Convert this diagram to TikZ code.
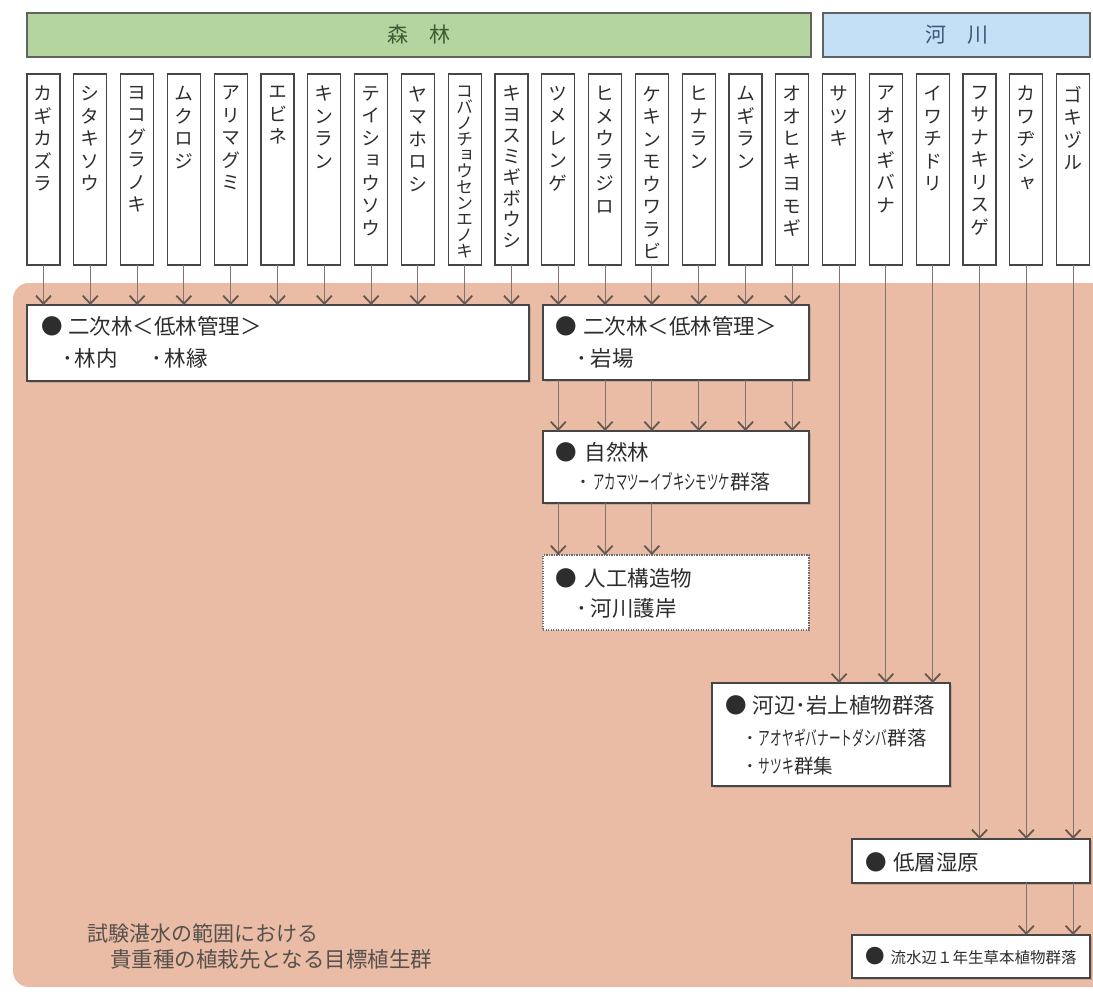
\documentclass[tikz,border=0pt]{standalone}
\usepackage{fontspec}
\setmainfont{Noto Sans CJK JP}
\newfontfamily\vjp[RawFeature=+vert]{Noto Sans CJK JP}
\newfontfamily\jpnarrowA[FakeStretch=0.57]{Noto Sans CJK JP}
\newfontfamily\jpnarrowB[FakeStretch=0.6]{Noto Sans CJK JP}
\usetikzlibrary{arrows.meta,shadows}
\definecolor{pinkbg}{RGB}{234,188,165}
\definecolor{boxc}{RGB}{70,70,70}
\definecolor{txtc}{RGB}{45,45,45}
\definecolor{arrc}{RGB}{128,116,110}
\definecolor{tipc}{RGB}{100,88,80}
\definecolor{greenb}{RGB}{180,213,160}
\definecolor{blueb}{RGB}{195,224,247}
\definecolor{greent}{RGB}{62,90,52}
\definecolor{bluet}{RGB}{60,88,118}
\definecolor{notec}{RGB}{85,80,76}
\tikzset{
  spbox/.style={draw=boxc, line width=1.2pt, fill=white, minimum width=33, minimum height=191, anchor=north, inner sep=0pt, outer sep=0pt},
  banner/.style={draw=boxc!85, line width=1.4pt, inner sep=0pt, outer sep=0pt, anchor=north west},
  mainbox/.style={draw=boxc, line width=1.4pt, fill=white, inner sep=0pt, outer sep=0pt, anchor=north west,
     drop shadow={shadow xshift=1.5pt, shadow yshift=-1.5pt, opacity=0.35}},
  dotbox/.style={draw=boxc!80, line width=1.1pt, dash pattern=on 1.2pt off 1.3pt, fill=white, inner sep=0pt, outer sep=0pt, anchor=north west},
  lbl/.style={anchor=base west, inner sep=0pt, text=txtc},
  arr/.style={draw=arrc, line width=1.1pt, arrows={-Straight Barb[length=8pt 0, width=15pt 0, line width=1.8pt, color=tipc]}},
}
\begin{document}
\begin{tikzpicture}[x=1pt, y=-1pt]
\useasboundingbox (0,0) rectangle (1093,998);
\clip (0,0) rectangle (1093,998);
% pink background
\fill[pinkbg, rounded corners=16pt] (13,283) rectangle (1120,987);
% banners
\node[banner, fill=greenb, minimum width=784, minimum height=44] (forest) at (27,13) {};
\node[text=greent, font=\fontsize{21}{24}\selectfont] (forestt) at (forest.center) {森　林};
\node[banner, fill=blueb, minimum width=267, minimum height=44] (river) at (823,13) {};
\node[text=bluet, font=\fontsize{21}{24}\selectfont] (rivert) at (river.center) {河　川};
% species boxes
\foreach \i/\fs/\ls/\nm in {
 1/19/22.5/{カ\\ギ\\カ\\ズ\\ラ},
 2/19/22.5/{シ\\タ\\キ\\ソ\\ウ},
 3/19/22.5/{ヨ\\コ\\グ\\ラ\\ノ\\キ},
 4/19/22.5/{ム\\ク\\ロ\\ジ},
 5/19/22.5/{ア\\リ\\マ\\グ\\ミ},
 6/19/22.5/{エ\\ビ\\ネ},
 7/19/22.5/{キ\\ン\\ラ\\ン},
 8/19/22.5/{テ\\イ\\シ\\ョ\\ウ\\ソ\\ウ},
 9/19/22.5/{ヤ\\マ\\ホ\\ロ\\シ},
 10/17/16/{コ\\バ\\ノ\\チ\\ョ\\ウ\\セ\\ン\\エ\\ノ\\キ},
 11/19/21/{キ\\ヨ\\ス\\ミ\\ギ\\ボ\\ウ\\シ},
 12/19/22.5/{ツ\\メ\\レ\\ン\\ゲ},
 13/19/22.5/{ヒ\\メ\\ウ\\ラ\\ジ\\ロ},
 14/19/22.5/{ケ\\キ\\ン\\モ\\ウ\\ワ\\ラ\\ビ},
 15/19/22.5/{ヒ\\ナ\\ラ\\ン},
 16/19/22.5/{ム\\ギ\\ラ\\ン},
 17/19/22.5/{オ\\オ\\ヒ\\キ\\ヨ\\モ\\ギ},
 18/19/22.5/{サ\\ツ\\キ},
 19/19/22.5/{ア\\オ\\ヤ\\ギ\\バ\\ナ},
 20/19/22.5/{イ\\ワ\\チ\\ド\\リ},
 21/19/22.5/{フ\\サ\\ナ\\キ\\リ\\ス\\ゲ},
 22/19/22.5/{カ\\ワ\\ヂ\\シ\\ャ},
 23/19/22.5/{ゴ\\キ\\ヅ\\ル}} {
  \node[spbox] (s\i) at (43.5+46.8*\i-46.8, 74) {};
  \node[anchor=north, inner sep=0pt, align=center, text=txtc, font=\vjp\fontsize{\fs}{\ls}\selectfont] (t\i) at ([yshift=-12pt]s\i.north) {\nm};
}
% target boxes
\node[mainbox, minimum width=502, minimum height=76] (A) at (27,305) {};
\node[mainbox, minimum width=266, minimum height=75] (B) at (543,305) {};
\node[mainbox, minimum width=266, minimum height=72] (C) at (543,431) {};
\node[dotbox, minimum width=266, minimum height=75] (D) at (543,555) {};
\node[mainbox, minimum width=238, minimum height=103] (E) at (712,683) {};
\node[mainbox, minimum width=238, minimum height=44] (F) at (852,839) {};
\node[mainbox, minimum width=238, minimum height=43] (G) at (852,935) {};
% arrows
\foreach \i in {1,...,11} \draw[arr] (s\i.south) -- (s\i.south |- A.north);
\foreach \i in {12,...,17} \draw[arr] (s\i.south) -- (s\i.south |- B.north);
\foreach \i in {12,...,17} \draw[arr] (B.south -| s\i) -- (C.north -| s\i);
\foreach \i in {12,13,14} \draw[arr] (C.south -| s\i) -- (D.north -| s\i);
\foreach \i in {18,19,20} \draw[arr] (s\i.south) -- (s\i.south |- E.north);
\foreach \i in {21,22,23} \draw[arr] (s\i.south) -- (s\i.south |- F.north);
\foreach \i in {22,23} \draw[arr] (F.south -| s\i) -- (G.north -| s\i);
% labels
\node[lbl, font=\fontsize{21.5}{25}\selectfont] (a1) at (41,334) {●\hspace{5.5pt}二次林＜低林管理＞};
\node[lbl, font=\fontsize{21.5}{25}\selectfont] (a2) at (62,366) {･\hspace{2pt}林内\hspace{34pt}･\hspace{2pt}林縁};
\node[lbl, font=\fontsize{21.5}{25}\selectfont] (b1) at (555,334) {●\hspace{6.5pt}二次林＜低林管理＞};
\node[lbl, font=\fontsize{21.5}{25}\selectfont] (b2) at (576,366) {･\hspace{4pt}岩場};
\node[lbl, font=\fontsize{21.5}{25}\selectfont] (c1) at (555,460) {●\hspace{8pt}自然林};
\node[lbl, font=\fontsize{20}{24}\selectfont] (c2) at (578,489) {･\hspace{5pt}{\jpnarrowA アカマツーイブキシモツケ}群落};
\node[lbl, font=\fontsize{21.5}{25}\selectfont] (d1) at (555,586) {●\hspace{8pt}人工構造物};
\node[lbl, font=\fontsize{21.5}{25}\selectfont] (d2) at (576,616) {･\hspace{4pt}河川護岸};
\node[lbl, font=\fontsize{21.5}{25}\selectfont] (e1) at (725,713) {●\hspace{6pt}河辺･岩上植物群落};
\node[lbl, font=\fontsize{19.5}{22}\selectfont] (e2) at (745,745) {･\hspace{4pt}{\jpnarrowB アオヤギバナートダシバ}群落};
\node[lbl, font=\fontsize{19.5}{22}\selectfont] (e3) at (745,773) {･\hspace{4pt}{\jpnarrowB サツキ}群集};
\node[lbl, font=\fontsize{21.5}{25}\selectfont] (f1) at (865,870) {●\hspace{6.5pt}低層湿原};
\node[lbl, font=\fontsize{15.5}{20}\selectfont] (g1) at (865,963) {{\fontsize{19.5}{20}\selectfont ●}\hspace{6pt}流水辺１年生草本植物群落};
\node[lbl, text=notec, font=\fontsize{21}{25}\selectfont] (n1) at (87,941) {試験湛水の範囲における};
\node[lbl, text=notec, font=\fontsize{21.5}{25}\selectfont] (n2) at (110,967) {貴重種の植栽先となる目標植生群};
\end{tikzpicture}
\end{document}
